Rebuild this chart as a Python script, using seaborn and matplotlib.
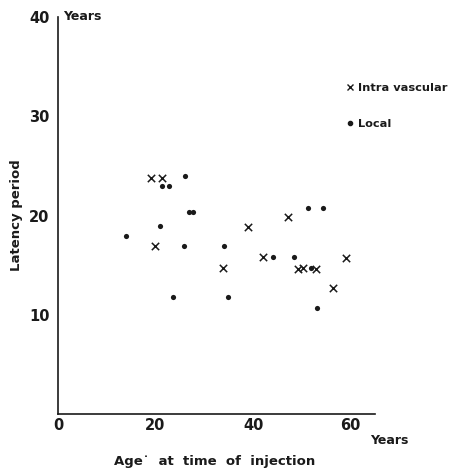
import matplotlib
matplotlib.use("Agg")
import matplotlib.pyplot as plt
import seaborn as sns
import pandas as pd
from matplotlib.lines import Line2D

# Data
iv_age = [19.1, 21.4, 19.9, 33.9, 39.0, 42.1, 47.2, 49.3, 50.3, 53.0, 56.3, 59.1]
iv_lat = [23.8, 23.8, 16.9, 14.7, 18.8, 15.8, 19.8, 14.6, 14.7, 14.6, 12.7, 15.7]
local_age = [14.0, 21.0, 21.4, 22.8, 23.6, 26.1, 25.9, 26.9, 27.7, 34.1, 34.9,
             44.1, 48.3, 51.3, 54.4, 51.8, 53.2]
local_lat = [17.9, 18.9, 23.0, 23.0, 11.8, 24.0, 16.9, 20.4, 20.4, 16.9, 11.8,
             15.8, 15.8, 20.8, 20.8, 14.7, 10.7]
x_ticks = [0, 20, 40, 60]
y_ticks = [10, 20, 30, 40]
series_names = ["Intra vascular", "Local"]

sns.set_theme(style="white")
plt.rcParams['font.family'] = ['DejaVu Sans']

df = pd.DataFrame({
    "age": iv_age + local_age,
    "lat": iv_lat + local_lat,
    "kind": [series_names[0]] * len(iv_age) + [series_names[1]] * len(local_age),
})

fig = plt.figure(figsize=(4.54, 4.71), dpi=100)
ax = fig.add_axes([58/454, 1 - 414/471, (375 - 58)/454, (414 - 17)/471])

ink = "#1a1a1a"
sns.scatterplot(data=df[df.kind == series_names[0]], x="age", y="lat", marker="x",
                s=28, color=ink, linewidth=1.1, ax=ax, legend=False)
sns.scatterplot(data=df[df.kind == series_names[1]], x="age", y="lat", marker="o",
                s=14, color=ink, edgecolor=ink, linewidth=0, ax=ax, legend=False)

ax.set_xlim(0, 65)
ax.set_ylim(0, 40)
for s in ["top", "right"]:
    ax.spines[s].set_visible(False)
for s in ["left", "bottom"]:
    ax.spines[s].set_color(ink)
    ax.spines[s].set_linewidth(1.2)

ax.set_xticks(x_ticks)
ax.set_yticks(y_ticks)
ax.tick_params(axis="x", direction="in", length=4, width=1, colors=ink, pad=3,
               labelsize=10.5)
ax.tick_params(axis="y", direction="out", length=3, width=1, colors=ink, pad=3,
               labelsize=10.5)
for lab in ax.get_xticklabels() + ax.get_yticklabels():
    lab.set_fontweight("bold")
ax.set_xlabel("")
ax.set_ylabel("")

fig.text(17/454, 1 - 215/471, "Latency period", rotation=90, ha="center",
         va="center", fontsize=9.5, fontweight="bold", color=ink)
fig.text(215/454, 1 - 461/471, "Age\u02d9  at  time  of  injection", ha="center",
         va="center", fontsize=9.5, fontweight="bold", color=ink)
fig.text(370/454, 1 - 440/471, "Years", ha="left", va="center", fontsize=9,
         fontweight="bold", color=ink)
fig.text(63/454, 1 - 16/471, "Years", ha="left", va="center", fontsize=9,
         fontweight="bold", color=ink)

handles = [Line2D([], [], marker="x", ls="", color=ink, markersize=5, mew=1),
           Line2D([], [], marker="o", ls="", color=ink, markersize=3)]
leg = ax.legend(handles, series_names, loc="upper left",
                bbox_to_anchor=((334 - 58)/317, 1 - (73 - 17)/397),
                frameon=False, handletextpad=0.2, labelspacing=2.3,
                handlelength=1.0, prop={"weight": "bold", "size": 8.2})
for t in leg.get_texts():
    t.set_color(ink)

fig.savefig("out.png", dpi=100)
